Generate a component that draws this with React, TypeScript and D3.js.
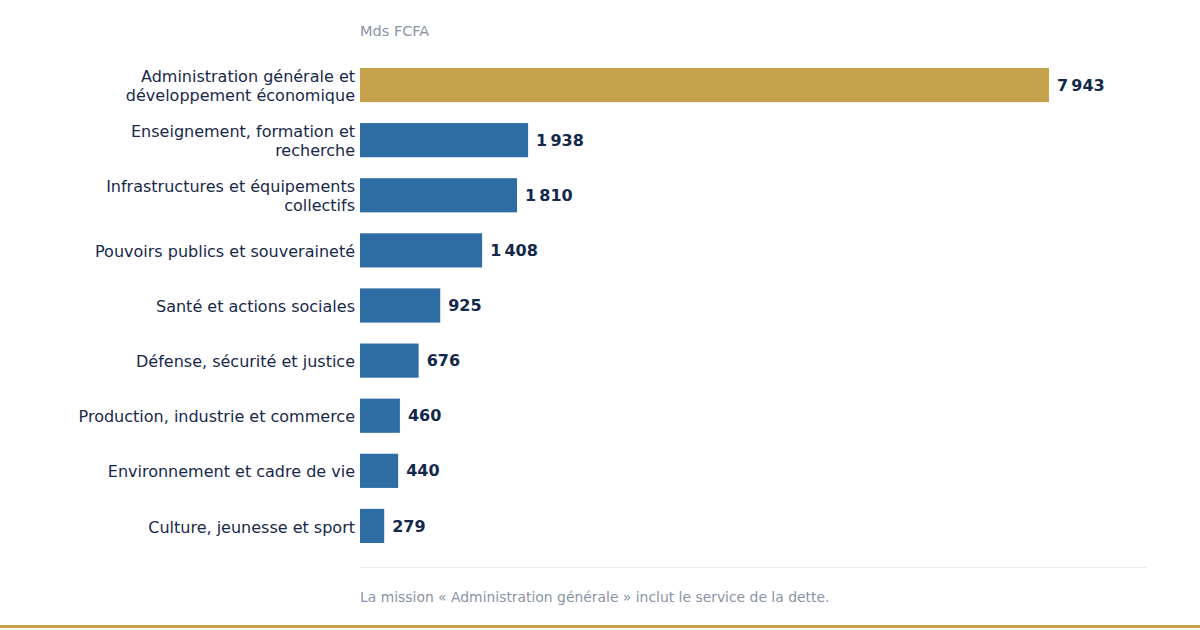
import React from "react";
import * as d3 from "d3";

const categories: string[][] = [
  ["Administration générale et", "développement économique"],
  ["Enseignement, formation et", "recherche"],
  ["Infrastructures et équipements", "collectifs"],
  ["Pouvoirs publics et souveraineté"],
  ["Santé et actions sociales"],
  ["Défense, sécurité et justice"],
  ["Production, industrie et commerce"],
  ["Environnement et cadre de vie"],
  ["Culture, jeunesse et sport"],
];
const values: number[] = [7943, 1938, 1810, 1408, 925, 676, 460, 440, 279];
const highlight: boolean[] = [true, false, false, false, false, false, false, false, false];
const unitLabel = "Mds FCFA";
const footnote = "La mission « Administration générale » inclut le service de la dette.";

const W = 1200;
const H = 630;
const FONT = "DejaVu Sans, Verdana, sans-serif";

export default function App() {
  const x = d3.scaleLinear().domain([0, d3.max(values) as number]).range([360, 1049]);
  const y = d3
    .scaleBand<number>()
    .domain(values.map((_, i) => i))
    .range([57.5, 553.5])
    .paddingInner(0.38)
    .paddingOuter(0.19);
  const fmt = (v: number) => d3.format(",")(v).replace(/,/g, "\u202F");
  const bw = y.bandwidth();

  return (
    <div style={{ position: "absolute", left: 0, top: 0 }}>
      <svg width={W} height={H} style={{ display: "block", background: "#fff" }}>
        <text x={360} y={36} fontFamily={FONT} fontSize={14.5} fill="#8a93a6">
          {unitLabel}
        </text>
        {values.map((v, i) => {
          const yc = (y(i) as number) + bw / 2;
          const lines = categories[i];
          const lh = 19;
          const y0 = yc - ((lines.length - 1) * lh) / 2;
          return (
            <g key={i}>
              <rect
                x={x(0)}
                y={y(i)}
                width={x(v) - x(0)}
                height={bw}
                fill={highlight[i] ? "#c5a24b" : "#2e6da4"}
              />
              {lines.map((l, j) => (
                <text
                  key={j}
                  x={355}
                  y={y0 + j * lh + 1}
                  dy="0.35em"
                  textAnchor="end"
                  fontFamily={FONT}
                  fontSize={16}
                  fill="#17294a"
                >
                  {l}
                </text>
              ))}
              <text
                x={x(v) + 8}
                y={yc}
                dy="0.35em"
                fontFamily={FONT}
                fontSize={16}
                fontWeight="bold"
                fill="#13284a"
              >
                {fmt(v)}
              </text>
            </g>
          );
        })}
        <line x1={360} x2={1146} y1={567.5} y2={567.5} stroke="#e8eaee" strokeWidth={1} />
        <text x={360} y={602} fontFamily={FONT} fontSize={13.9} fill="#8a93a6">
          {footnote}
        </text>
        <rect x={0} y={625} width={W} height={3} fill="#c5a24b" />
      </svg>
    </div>
  );
}
